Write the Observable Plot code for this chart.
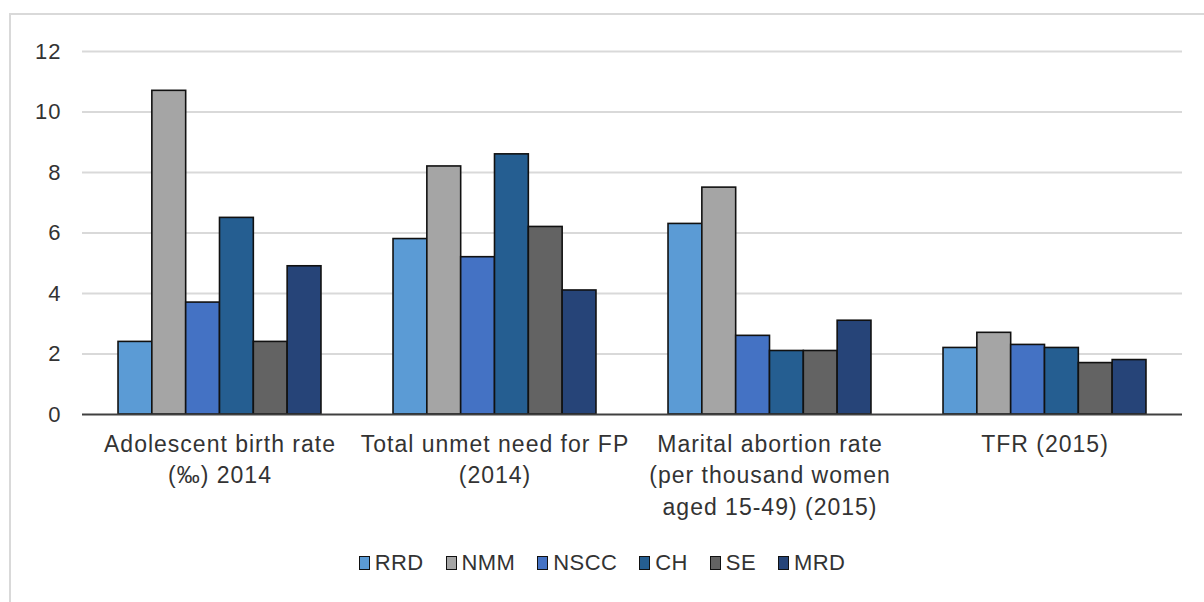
<!DOCTYPE html>
<html>
<head>
<meta charset="utf-8">
<script src="https://cdn.jsdelivr.net/npm/d3@7"></script>
<script src="https://cdn.jsdelivr.net/npm/@observablehq/plot@0.6"></script>
<style>
  html, body { margin: 0; padding: 0; background: #fff; overflow: hidden; }
  body { width: 1204px; height: 602px; position: relative; font-family: "Liberation Sans", Arial, sans-serif; }
  #frame { position: absolute; left: 9px; top: 13px; width: 1300px; height: 700px; border: 2px solid #d9d9d9; box-sizing: border-box; }
  #chart { position: absolute; left: 0; top: 0; }
  #chart svg text { letter-spacing: 1px; }
  #legend { position: absolute; left: 0; width: 1204px; top: 550px; display: flex; justify-content: center; gap: 22px; font-size: 22px; letter-spacing: 0.4px; color: #333; }
  .item { display: flex; align-items: center; }
  .sw { width: 9px; height: 12px; border: 1.5px solid #111; margin-right: 5px; }
</style>
</head>
<body>
<div id="frame"></div>
<div id="chart"></div>
<div id="legend"></div>
<script>
const categories = [
  "Adolescent birth rate\n(‰) 2014",
  "Total unmet need for FP\n(2014)",
  "Marital abortion rate\n(per thousand women\naged 15-49) (2015)",
  "TFR (2015)"
];
const series = ["RRD", "NMM", "NSCC", "CH", "SE", "MRD"];
const colors = ["#5b9bd5", "#a5a5a5", "#4472c4", "#255e91", "#636363", "#264478"];
const RRD  = [2.4, 5.8, 6.3, 2.2];
const NMM  = [10.7, 8.2, 7.5, 2.7];
const NSCC = [3.7, 5.2, 2.6, 2.3];
const CH   = [6.5, 8.6, 2.1, 2.2];
const SE   = [2.4, 6.2, 2.1, 1.7];
const MRD  = [4.9, 4.1, 3.1, 1.8];
const yTicks = [0, 2, 4, 6, 8, 10, 12];

const valuesBySeries = [RRD, NMM, NSCC, CH, SE, MRD];
const table = [];
categories.forEach((c, i) => series.forEach((s, j) => table.push({category: c, series: s, value: valuesBySeries[j][i]})));

const chart = Plot.plot({
  width: 1204,
  height: 530,
  marginLeft: 82,
  marginRight: 22,
  marginTop: 51,
  marginBottom: 116,
  style: {fontFamily: "Liberation Sans, Arial, sans-serif", background: "transparent", color: "#333"},
  fx: {domain: categories, padding: 0, round: false, label: null},
  x: {domain: series, paddingInner: 0, paddingOuter: 1.065, round: false, axis: null},
  y: {domain: [0, 12], label: null},
  color: {domain: series, range: colors},
  marks: [
    Plot.gridY(yTicks.filter(d => d > 0), {stroke: "#d9d9d9", strokeOpacity: 1, strokeWidth: 2}),
    Plot.axisY(yTicks, {tickSize: 0, tickPadding: 21, fontSize: 22, fill: "#333", label: null}),
    Plot.axisFx({anchor: "bottom", tickSize: 0, tickPadding: 15, fontSize: 23, lineHeight: 1.37, fill: "#333", label: null}),
    Plot.barY(table, {fx: "category", x: "series", y: "value", fill: "series", stroke: "#111", strokeWidth: 1.6, insetLeft: 0, insetRight: 0}),
    Plot.ruleY([0], {stroke: "#404040", strokeWidth: 2})
  ]
});
document.getElementById("chart").appendChild(chart);

const legend = document.getElementById("legend");
series.forEach((s, i) => {
  const item = document.createElement("div");
  item.className = "item";
  const sw = document.createElement("div");
  sw.className = "sw";
  sw.style.background = colors[i];
  const t = document.createElement("span");
  t.textContent = s;
  item.appendChild(sw);
  item.appendChild(t);
  legend.appendChild(item);
});
</script>
</body>
</html>
